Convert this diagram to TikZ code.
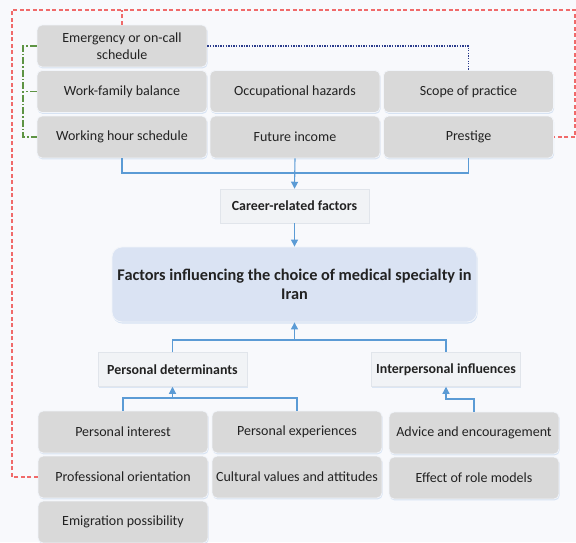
\documentclass[tikz,border=0pt]{standalone}
\usepackage{fontspec}
\setmainfont{Carlito}
\usetikzlibrary{positioning,arrows.meta,shadows}

\definecolor{pagebg}{HTML}{F8F9FC}
\definecolor{factorfill}{HTML}{D9D9D9}
\definecolor{factoredge}{HTML}{F2F5FA}
\definecolor{headfill}{HTML}{F1F3F6}
\definecolor{headedge}{HTML}{E1E5EB}
\definecolor{mainfill}{HTML}{DAE3F3}
\definecolor{glowblue}{HTML}{C9DAF0}
\definecolor{linkblue}{HTML}{5B9BD5}
\definecolor{linkred}{HTML}{F06A6A}
\definecolor{linkgreen}{HTML}{5E9444}
\definecolor{linknavy}{HTML}{2B3C8C}
\definecolor{inktext}{HTML}{222222}

\tikzset{
	factor/.style={rectangle, rounded corners=5pt, fill=factorfill, draw=factoredge, line width=0.8pt,
		minimum width=170pt, minimum height=42pt, inner sep=2pt, align=center, text=inktext,
		font=\fontsize{14}{17}\selectfont,
		drop shadow={shadow xshift=0.6pt, shadow yshift=-1.4pt, fill=glowblue, opacity=0.7}},
	head/.style={rectangle, fill=headfill, draw=headedge, line width=0.5pt,
		minimum width=149pt, minimum height=34pt, inner sep=2pt, text=inktext,
		font=\fontsize{13.9}{16}\selectfont\bfseries,
		drop shadow={shadow xshift=0.6pt, shadow yshift=-1.4pt, fill=glowblue, opacity=0.6}},
	mainbox/.style={rectangle, rounded corners=10pt, fill=mainfill, draw=factoredge, line width=0.8pt,
		minimum width=365pt, minimum height=75pt, align=center, text=inktext,
		font=\fontsize{16.3}{19.5}\selectfont\bfseries,
		drop shadow={shadow xshift=0.6pt, shadow yshift=-1.6pt, fill=glowblue, opacity=0.7}},
	flow/.style={draw=linkblue, line width=1.1pt},
	flowarrow/.style={flow, -{Triangle[length=7pt,width=7pt]}},
	redlink/.style={draw=linkred, line width=1.1pt, dash pattern=on 4pt off 2.5pt},
	greenlink/.style={draw=linkgreen, line width=1.1pt, dash pattern=on 7pt off 2pt on 1.5pt off 2pt},
	navylink/.style={draw=linknavy, line width=1.1pt, dash pattern=on 1.3pt off 1.3pt}
}

\begin{document}
\begin{tikzpicture}[x=1pt,y=-1pt]
	\fill [pagebg] (0,0) rectangle (576,542);
	\useasboundingbox (0,0) rectangle (576,542);

	% career-related factors
	\node [factor] (emergency) at (122,46) {Emergency or on-call\\schedule};
	\node [factor] (workfamily) at (122,91.5) {Work-family balance};
	\node [factor] (workhour) at (122,137) {Working hour schedule};
	\node [factor] (hazards) at (295,91.5) {Occupational hazards};
	\node [factor] (income) at (295,137) {Future income};
	\node [factor] (scope) at (468.5,91.5) {Scope of practice};
	\node [factor] (prestige) at (468.5,137) {Prestige};

	\node [head] (career) at (294.5,206) {Career-related factors};

	% main box
	\node [mainbox] (main) at (294.5,284.5) {Factors influencing the choice of medical specialty in\\Iran};

	% two groups below
	\node [head] (personal) at (172.5,369.5) {Personal determinants};
	\node [head] (interpersonal) at (446,369.5) {Interpersonal influences};

	% personal determinants
	\node [factor] (interest) at (123,432) {Personal interest};
	\node [factor] (orientation) at (123,477) {Professional orientation};
	\node [factor] (emigration) at (123,522) {Emigration possibility};
	\node [factor] (experiences) at (297,432) {Personal experiences};
	\node [factor] (cultural) at (297,477) {Cultural values and attitudes};

	% interpersonal influences
	\node [factor] (advice) at (474,433) {Advice and encouragement};
	\node [factor] (rolemodels) at (474,478) {Effect of role models};

	% blue links
	\coordinate (topbar) at (295,173);
	\draw [flow] (workhour.south) |- (topbar) -| (prestige.south);
	\draw [flowarrow] (income.south) -- (career.north);
	\draw [flowarrow] (career.south) -- (main.north);

	\coordinate (midbar) at (294.5,340);
	\draw [flow] (personal.north) |- (midbar) -| (interpersonal.north);
	\draw [flowarrow] (midbar) -- (main.south);

	\coordinate (lowbar) at (172.5,398);
	\draw [flow] (interest.north) |- (lowbar) -| (experiences.north);
	\draw [flowarrow] (lowbar) -- (personal.south);

	\coordinate (advicebar) at (446,399);
	\draw [flowarrow] (advice.north) |- (advicebar) -- (interpersonal.south);

	% dashed links
	\coordinate (redleft) at (12,10);
	\coordinate (redright) at (575,10);
	\draw [redlink] (orientation.west) -| (redleft) -- (redright) |- (prestige.east);
	\draw [redlink] (emergency.north) -- (emergency.north |- redleft);

	\coordinate (greenleft) at (23,46);
	\draw [greenlink] (emergency.west) -| (greenleft) |- (workhour.west);
	\draw [greenlink] (workfamily.west) -- (workfamily.west -| greenleft);

	\draw [navylink] (emergency.east) -| (scope.north);
\end{tikzpicture}
\end{document}
